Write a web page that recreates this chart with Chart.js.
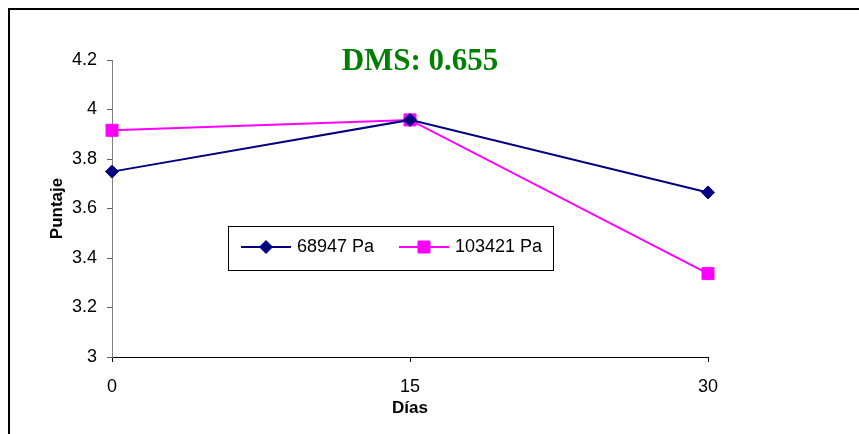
<!DOCTYPE html>
<html lang="es">
<head>
    <meta charset="UTF-8">
    <title>DMS: 0.655</title>
    <style>
        body {
            margin: 0;
            background-color: #ffffff;
        }
        #chart {
            display: block;
        }
    </style>
</head>
<body>
    <canvas id="chart" width="859" height="434"></canvas>
    <script src="https://cdn.jsdelivr.net/npm/chart.js"></script>
    <script>
        // values
        const dias = ['0', '15', '30'];
        const serie68947 = [3.749, 3.958, 3.665];
        const serie103421 = [3.916, 3.958, 3.337];
        const yTicks = [3, 3.2, 3.4, 3.6, 3.8, 4, 4.2];
        const titulo = 'DMS: 0.655';

        const font = 'Arial, "Liberation Sans", sans-serif';

        // frame, title and the boxed legend inside the plot
        const extras = {
            id: 'extras',
            beforeDraw(chart) {
                const ctx = chart.ctx;
                ctx.save();
                ctx.fillStyle = '#ffffff';
                ctx.fillRect(0, 0, chart.width, chart.height);
                ctx.strokeStyle = '#000000';
                ctx.lineWidth = 2;
                ctx.beginPath();
                ctx.moveTo(9, chart.height);
                ctx.lineTo(9, 9);
                ctx.lineTo(chart.width, 9);
                ctx.stroke();
                ctx.restore();
            },
            afterDraw(chart) {
                const ctx = chart.ctx;
                ctx.save();
                ctx.fillStyle = '#008000';
                ctx.font = 'bold 31px "Liberation Serif", "Times New Roman", serif';
                ctx.textAlign = 'center';
                ctx.textBaseline = 'middle';
                ctx.fillText(titulo, 420, 62);

                // legend box
                ctx.fillStyle = '#ffffff';
                ctx.fillRect(228, 226, 325, 44);
                ctx.strokeStyle = '#000000';
                ctx.lineWidth = 1;
                ctx.strokeRect(228.5, 226.5, 325, 44);

                const items = [
                    { x: 241 },
                    { x: 399 }
                ];
                const cy = 247;
                chart.data.datasets.forEach((ds, i) => {
                    const it = items[i];
                    ctx.strokeStyle = ds.borderColor;
                    ctx.lineWidth = 2;
                    ctx.beginPath();
                    ctx.moveTo(it.x, cy);
                    ctx.lineTo(it.x + 50, cy);
                    ctx.stroke();
                    ctx.fillStyle = ds.pointBackgroundColor;
                    ctx.strokeStyle = ds.pointBorderColor;
                    ctx.lineWidth = 1;
                    Chart.helpers.drawPoint(ctx, {
                        pointStyle: ds.pointStyle,
                        rotation: 0,
                        radius: ds.pointRadius,
                        borderWidth: 1
                    }, it.x + 25, cy);
                    ctx.fillStyle = '#000000';
                    ctx.font = '18px ' + font;
                    ctx.textAlign = 'left';
                    ctx.textBaseline = 'middle';
                    ctx.fillText(ds.label, it.x + 56, cy);
                });
                ctx.restore();
            }
        };

        new Chart(document.getElementById('chart'), {
            type: 'line',
            data: {
                labels: dias,
                datasets: [
                    {
                        label: '68947 Pa',
                        data: serie68947,
                        borderColor: '#000080',
                        borderWidth: 2,
                        pointStyle: 'rectRot',
                        pointRadius: 6.5,
                        pointBackgroundColor: '#000080',
                        pointBorderColor: '#000080',
                        pointBorderWidth: 1,
                        tension: 0
                    },
                    {
                        label: '103421 Pa',
                        data: serie103421,
                        borderColor: '#ff00ff',
                        borderWidth: 2,
                        pointStyle: 'rect',
                        pointRadius: 8.5,
                        pointBackgroundColor: '#ff00ff',
                        pointBorderColor: '#ff00ff',
                        pointBorderWidth: 1,
                        tension: 0
                    }
                ]
            },
            options: {
                responsive: false,
                animation: false,
                layout: {
                    padding: { left: 40, right: 151, top: 60, bottom: 0 }
                },
                plugins: {
                    legend: { display: false },
                    tooltip: { enabled: false }
                },
                scales: {
                    x: {
                        offset: false,
                        grid: {
                            drawOnChartArea: false,
                            drawTicks: true,
                            tickLength: 5,
                            color: '#000000'
                        },
                        border: { display: true, color: '#000000', width: 1 },
                        ticks: {
                            color: '#000000',
                            font: { family: font, size: 18 },
                            padding: 14,
                            maxRotation: 0
                        },
                        title: {
                            display: true,
                            text: 'Días',
                            color: '#000000',
                            font: { family: font, size: 17, weight: 'bold' },
                            padding: { top: 0, bottom: 15 }
                        },
                        afterFit(scale) { scale.height = 77; }
                    },
                    y: {
                        min: 3,
                        max: 4.2,
                        afterBuildTicks(scale) {
                            scale.ticks = yTicks.map(v => ({ value: v }));
                        },
                        grid: {
                            drawOnChartArea: false,
                            drawTicks: true,
                            tickLength: 5,
                            color: '#606060'
                        },
                        border: { display: true, color: '#808080', width: 1 },
                        ticks: {
                            color: '#000000',
                            font: { family: font, size: 18 },
                            padding: 10,
                            callback: v => String(+v.toFixed(1))
                        },
                        title: {
                            display: true,
                            text: 'Puntaje',
                            color: '#000000',
                            font: { family: font, size: 17, weight: 'bold' },
                            padding: { top: 7, bottom: 0 }
                        },
                        afterFit(scale) { scale.width = 72; }
                    }
                }
            },
            plugins: [extras]
        });
    </script>
</body>
</html>
